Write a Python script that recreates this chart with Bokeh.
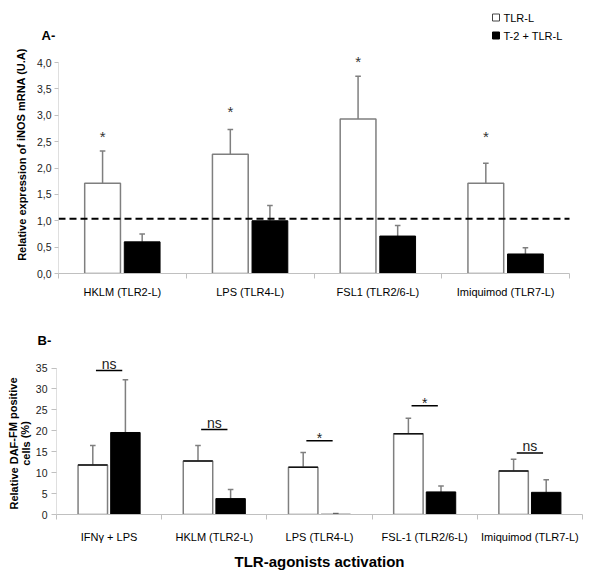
from bokeh.plotting import figure
from bokeh.layouts import column, row
from bokeh.models import Range1d, FixedTicker
from bokeh.embed import file_html
from bokeh.resources import INLINE
from bokeh.core.properties import value

# ---------------- data ----------------
cats_a = ["HKLM (TLR2-L)", "LPS (TLR4-L)", "FSL1 (TLR2/6-L)", "Imiquimod (TLR7-L)"]
a_tlr = [1.71, 2.26, 2.93, 1.71]
a_tlr_err = [0.61, 0.47, 0.81, 0.38]
a_t2 = [0.60, 1.00, 0.71, 0.37]
a_t2_err = [0.15, 0.29, 0.20, 0.12]
a_star_y = [2.67, 3.13, 4.08, 2.67]
a_baseline = 1.04
a_yticks = [0.0, 0.5, 1.0, 1.5, 2.0, 2.5, 3.0, 3.5, 4.0]

cats_b = ["IFN\u03b3 + LPS", "HKLM (TLR2-L)", "LPS (TLR4-L)", "FSL-1 (TLR2/6-L)", "Imiquimod (TLR7-L)"]
b_tlr = [11.8, 12.8, 11.3, 19.3, 10.4]
b_tlr_err = [4.7, 3.7, 3.5, 3.7, 2.8]
b_t2 = [19.6, 3.8, 0.05, 5.4, 5.3]
b_t2_err = [12.6, 2.2, 0.2, 1.4, 3.0]
b_sig_y = [34.4, 20.3, 17.6, 26.0, 14.7]
b_sig_text = ["ns", "ns", "*", "*", "ns"]
b_yticks = [0, 5, 10, 15, 20, 25, 30, 35]

series_names = ["TLR-L", "T-2 + TLR-L"]
title_a_y = "Relative expression of iNOS mRNA (U.A)"
title_b_y = ["Relative DAF-FM positive", "cells (%)"]
title_b_x = "TLR-agonists activation"

FONT = "Liberation Sans"
GRAY = "#7f7f7f"
AXIS = "#c0c0c0"
W = 584
OFF = 0.155
BW = 0.28
LEFT_W = 32
PW = W - LEFT_W


def style(p):
    p.grid.visible = False
    p.outline_line_color = None
    p.background_fill_color = "white"
    p.border_fill_color = "white"


class Strip:
    """figure whose data space equals page pixels (inside its frame)"""
    def __init__(self, w, h, x0, y0, bottom=0):
        self.y_base = y0 + h - bottom
        self.p = figure(width=w, height=h, x_range=Range1d(x0, x0 + w), y_range=Range1d(0, h - bottom),
                        x_axis_type=None, y_axis_type=None, min_border=0,
                        min_border_left=0, min_border_right=0, min_border_top=0,
                        min_border_bottom=bottom,
                        output_backend="svg", toolbar_location=None)
        style(self.p)

    def Y(self, page_y):
        return self.y_base - page_y

    def txt(self, x, y, t, size, bold=False, angle=0.0, align="left", color="black"):
        self.p.text(x=[x], y=[self.Y(y)], text=[t], text_font=value(FONT), text_font_size=size,
                    text_font_style="bold" if bold else "normal", angle=angle,
                    text_align=align, text_baseline="middle", text_color=color)


def bars(p, n, tlr, tlr_err, t2, t2_err, ppu_x, top_black=False):
    xs = [i + 0.5 for i in range(n)]
    xw = [x - OFF for x in xs]
    xb = [x + OFF for x in xs]
    cap = 2.8 / ppu_x
    tw = [t + e for t, e in zip(tlr, tlr_err)]
    tb = [t + e for t, e in zip(t2, t2_err)]
    p.segment(x0=xw, y0=tlr, x1=xw, y1=tw, line_color=GRAY, line_width=1.5)
    p.segment(x0=[x - cap for x in xw], y0=tw, x1=[x + cap for x in xw], y1=tw, line_color=GRAY, line_width=1.5)
    p.segment(x0=xb, y0=t2, x1=xb, y1=tb, line_color=GRAY, line_width=1.5)
    p.segment(x0=[x - cap for x in xb], y0=tb, x1=[x + cap for x in xb], y1=tb, line_color=GRAY, line_width=1.5)
    p.vbar(x=xw, width=BW, bottom=0, top=tlr, fill_color="white", line_color=GRAY, line_width=1.5)
    if top_black:
        p.segment(x0=[x - BW / 2 for x in xw], y0=tlr, x1=[x + BW / 2 for x in xw], y1=tlr,
                  line_color="#111111", line_width=1.5)
    p.vbar(x=xb, width=BW, bottom=0, top=t2, fill_color="black", line_color="black", line_width=1)
    return xs, xw, xb


def style_axes(p, xs, cats, minor, yticks, ylabels, x_standoff, y_tick_out, y_standoff):
    p.xaxis.ticker = FixedTicker(ticks=xs, minor_ticks=minor)
    p.xaxis.major_label_overrides = {x: c for x, c in zip(xs, cats)}
    p.xaxis.major_tick_line_color = None
    p.xaxis.major_tick_out = 0
    p.xaxis.minor_tick_line_color = AXIS
    p.xaxis.minor_tick_out = 5
    p.xaxis.minor_tick_in = 0
    p.xaxis.axis_line_color = AXIS
    p.xaxis.major_label_standoff = x_standoff
    p.xaxis.major_label_text_font = FONT
    p.xaxis.major_label_text_font_size = "11px"
    p.xaxis.major_label_text_color = "black"
    p.yaxis.ticker = FixedTicker(ticks=yticks, minor_ticks=[])
    p.yaxis.major_label_overrides = {t: l for t, l in zip(yticks, ylabels)}
    p.yaxis.axis_line_color = None
    p.yaxis.major_tick_line_color = AXIS
    p.yaxis.major_tick_out = y_tick_out
    p.yaxis.major_tick_in = 0
    p.yaxis.major_label_standoff = y_standoff
    p.yaxis.major_label_text_font = FONT
    p.yaxis.major_label_text_font_size = "10.5px"
    p.yaxis.major_label_text_color = "#222222"
    p.segment(x0=[0], y0=[0], x1=[0], y1=[yticks[-1]], line_color=AXIS, line_width=1)


# ================= Panel A (page y 8..310) =================
A_H = 260
A_L, A_R, A_T, A_B = 26, 15, 0, 29

lA = Strip(LEFT_W, 302, 8, 8, bottom=A_B)
lA.txt(29, 162, title_a_y, "11px", bold=True, angle=1.5708, align="center")

tA = Strip(PW, 42, 40, 8)
tA.txt(49, 43, "A-", "13px", bold=True)
tA.p.scatter(x=[503.5], y=[tA.Y(25)], marker="square", size=7, fill_color="white",
             line_color="#444444", line_width=1)
tA.p.scatter(x=[503.5], y=[tA.Y(43)], marker="square", size=7, fill_color="black", line_color="black")
tA.txt(511, 25, series_names[0], "11px")
tA.txt(511, 43, series_names[1], "11px")

A_ppu = 52.75
A_ymax = (A_H - A_T - A_B) / A_ppu
A_ppx = (PW - A_L - A_R) / 4.0
pA = figure(width=PW, height=A_H, x_range=Range1d(0, 4), y_range=Range1d(0, A_ymax),
            output_backend="svg", toolbar_location=None,
            min_border_left=A_L, min_border_right=A_R, min_border_top=A_T, min_border_bottom=A_B)
style(pA)
xs_a, xw_a, xb_a = bars(pA, 4, a_tlr, a_tlr_err, a_t2, a_t2_err, A_ppx)
pA.segment(x0=[0], y0=[a_baseline], x1=[4.02], y1=[a_baseline], line_color="black",
           line_width=2, line_dash="7 4")
pA.text(x=xw_a, y=[s - 3.5 / A_ppu for s in a_star_y], text=["*"] * 4, text_font=value(FONT),
        text_font_size="15px", text_align="center", text_baseline="middle", text_color="#333333")
style_axes(pA, xs_a, cats_a, [0, 1, 2, 3, 4], a_yticks,
           [("%.1f" % t).replace(".", ",") for t in a_yticks], 7, 4, 3)

# ================= Panel B (page y 310..580) =================
B_H = 222
B_L, B_R, B_T, B_B = 23, 2, 0, 51

lB = Strip(LEFT_W, 270, 8, 310, bottom=B_B)
lB.txt(21, 451, title_b_y[0], "11px", bold=True, angle=1.5708, align="center")
lB.txt(33, 451, title_b_y[1], "11px", bold=True, angle=1.5708, align="center")

tB = Strip(PW, 48, 40, 310)
tB.txt(45, 348, "B-", "13px", bold=True)

B_ppu = 4.363
B_ymax = (B_H - B_T - B_B) / B_ppu
B_ppx = (PW - B_L - B_R) / 5.0
pB = figure(width=PW, height=B_H, x_range=Range1d(0, 5), y_range=Range1d(0, B_ymax),
            output_backend="svg", toolbar_location=None,
            min_border_left=B_L, min_border_right=B_R, min_border_top=B_T, min_border_bottom=B_B)
style(pB)
xs_b, xw_b, xb_b = bars(pB, 5, b_tlr, b_tlr_err, b_t2, b_t2_err, B_ppx, top_black=True)
half = 0.125
pB.segment(x0=[x - half for x in xs_b], y0=b_sig_y, x1=[x + half for x in xs_b], y1=b_sig_y,
           line_color="black", line_width=1.5)
off_px = [7 if t == "ns" else 3 for t in b_sig_text]
pB.text(x=xs_b, y=[y + o / B_ppu for y, o in zip(b_sig_y, off_px)], text=b_sig_text,
        text_font=value(FONT), text_font_size="14px", text_align="center",
        text_baseline="alphabetic", text_color="#222222")
style_axes(pB, xs_b, cats_b, [0, 1, 2, 3, 4, 5], b_yticks, [str(t) for t in b_yticks], 11, 5, 4)
pB.xaxis.axis_label = title_b_x
pB.xaxis.axis_label_text_font = FONT
pB.xaxis.axis_label_text_font_size = "15px"
pB.xaxis.axis_label_text_font_style = "bold"
pB.xaxis.axis_label_standoff = 7
pB.xaxis.axis_label_text_color = "black"

# wrap every plot in its own box so that sibling plots do not get their frames aligned
layout = column(
    row(column(lA.p), column(row(tA.p), row(pA))),
    row(column(lB.p), column(row(tB.p), row(pB))),
)
open("out.html", "w").write(file_html(layout, INLINE))
